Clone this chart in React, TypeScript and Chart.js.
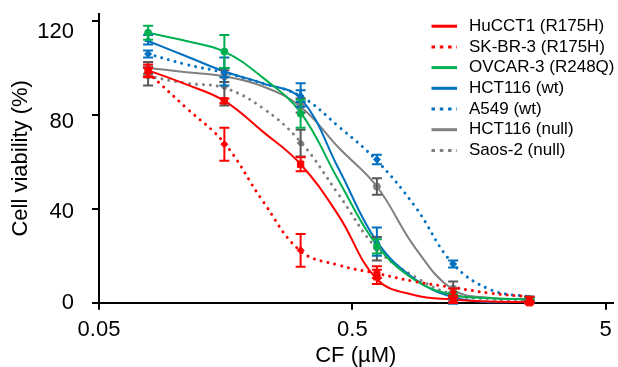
import React, { useEffect, useRef } from "react";
import { Chart, registerables } from "chart.js";

Chart.register(...registerables);

// ---------- data ----------
const doses = [0.078125, 0.15625, 0.3125, 0.625, 1.25, 2.5];
const curveDoses = [0.078125, 0.1105, 0.15625, 0.221, 0.3125, 0.442, 0.625, 0.884, 1.25, 1.768, 2.5];
const xTickValues = [0.05, 0.5, 5];
const yTickValues = [0, 40, 80, 120];

const seriesLabels = [
  "HuCCT1 (R175H)",
  "SK-BR-3 (R175H)",
  "OVCAR-3 (R248Q)",
  "HCT116 (wt)",
  "A549 (wt)",
  "HCT116 (null)",
  "Saos-2 (null)",
];

const hucctMean = [99, 86, 59, 11, 1, 0];
const hucctErr = [2.5, 1, 3, 3, 1, 0.5];
const hucctCurve = [99, 93, 86, 73, 59, 37, 10, 3.2, 1.4, 0.5, 0.3];

const skbrMean = [98, 67.5, 22.3, 13, 4.5, 1.5];
const skbrErr = [2, 7, 7, 2.5, 1.5, 1];
const skbrCurve = [98, 83, 68, 43.5, 22, 16, 12.5, 9, 6.5, 4, 2.5];

const ovcarMean = [115, 107, 80.5, 24, 3.3, 1.5];
const ovcarErr = [3, 7, 6, 3, 1, 0.5];
const ovcarCurve = [115, 111.5, 107, 96, 81, 52, 24.5, 9.6, 3.3, 1.9, 1.5];

const hctWtMean = [112, 98.5, 88.5, 26, 0.5, 0.5];
const hctWtErr = [2, 6, 5, 6, 1, 0.5];
const hctWtCurve = [111.5, 105, 98.5, 93.5, 87, 57, 26, 10, 2.3, 0.2, 0.5];

const a549Mean = [106, 98, 88, 61, 16.5, 1.5];
const a549Err = [1.5, 2, 2.5, 2, 1.5, 1];
const a549Curve = [106, 101.5, 98, 93.5, 88, 75, 60.5, 41, 16.5, 5.4, 2.5];

const hctNullMean = [100, 96.5, 84, 49.5, 6, 1.5];
const hctNullErr = [2.5, 2.5, 3, 3.5, 3, 1];
const hctNullCurve = [100, 98.2, 96.5, 92.2, 83.5, 66, 49.5, 23.5, 5.5, 2, 1.5];

const saosMean = [96.5, 92, 68, 23, 2, 1];
const saosErr = [4, 8, 5.7, 5, 1.5, 1];
const saosCurve = [96.5, 93.5, 91.5, 83, 68.5, 46, 23, 11, 3.5, 1.5, 1];

const allMeans = [hucctMean, skbrMean, ovcarMean, hctWtMean, a549Mean, hctNullMean, saosMean];
const allErrs = [hucctErr, skbrErr, ovcarErr, hctWtErr, a549Err, hctNullErr, saosErr];
const allCurves = [hucctCurve, skbrCurve, ovcarCurve, hctWtCurve, a549Curve, hctNullCurve, saosCurve];

// ---------- styles ----------
const lineColors = ["#FF0000", "#FF0000", "#00B050", "#0070C0", "#0070C0", "#808080", "#808080"];
const barColors = ["#FF0000", "#FF0000", "#00B050", "#0070C0", "#0070C0", "#595959", "#595959"];
const dottedStyle = [false, true, false, false, true, false, true];
const markerStyle = ["rect", "rectRot", "circle", "triangle", "rectRot", "circle", "rectRot"];

const FONT = "'Liberation Sans', Arial, sans-serif";

const zeroPadding = (s: any) => {
  s.paddingTop = 0;
  s.paddingBottom = 0;
  s.paddingLeft = 0;
  s.paddingRight = 0;
};

const errorBarPlugin = {
  id: "errorBars",
  afterDatasetDraw(chart: any, args: any) {
    const ds: any = chart.data.datasets[args.index];
    if (!ds.errors) return;
    const xs = chart.scales.x;
    const ys = chart.scales.y;
    const ctx = chart.ctx;
    ctx.save();
    ctx.strokeStyle = ds.errorColor;
    ctx.lineWidth = 2;
    ds.data.forEach((p: any, j: number) => {
      const e = ds.errors[j];
      if (!e) return;
      const px = xs.getPixelForValue(p.x);
      const top = ys.getPixelForValue(p.y + e);
      const bot = ys.getPixelForValue(p.y - e);
      ctx.beginPath();
      ctx.moveTo(px, top);
      ctx.lineTo(px, bot);
      ctx.moveTo(px - 5, top);
      ctx.lineTo(px + 5, top);
      ctx.moveTo(px - 5, bot);
      ctx.lineTo(px + 5, bot);
      ctx.stroke();
    });
    ctx.restore();
  },
};

const legendPlugin = {
  id: "sideLegend",
  afterDraw(chart: any) {
    const ctx = chart.ctx;
    ctx.save();
    seriesLabels.forEach((label, i) => {
      const y = 26.2 + i * 20.7;
      ctx.beginPath();
      ctx.strokeStyle = lineColors[i];
      ctx.lineWidth = 3;
      ctx.lineCap = "butt";
      ctx.setLineDash(dottedStyle[i] ? [3.5, 4.8] : []);
      ctx.moveTo(431.5, y);
      ctx.lineTo(457, y);
      ctx.stroke();
      ctx.setLineDash([]);
      ctx.fillStyle = "#000";
      ctx.font = `17px ${FONT}`;
      ctx.textBaseline = "middle";
      ctx.textAlign = "left";
      ctx.fillText(label, 469, y);
    });
    ctx.restore();
  },
};

export default function App() {
  const ref = useRef<HTMLCanvasElement>(null);

  useEffect(() => {
    document.body.style.margin = "0";
    const datasets: any[] = [];
    seriesLabels.forEach((label, i) => {
      datasets.push({
        label,
        data: curveDoses.map((x, j) => ({ x, y: allCurves[i][j] })),
        showLine: true,
        borderColor: lineColors[i],
        backgroundColor: lineColors[i],
        borderWidth: dottedStyle[i] ? 3 : 2,
        borderDash: dottedStyle[i] ? [0.01, 7] : [],
        borderCapStyle: dottedStyle[i] ? "round" : "butt",
        pointRadius: 0,
        tension: 0.4,
        order: 2,
        clip: false,
      });
    });
    seriesLabels.forEach((label, i) => {
      datasets.push({
        label: label + " data",
        data: doses.map((x, j) => ({ x, y: allMeans[i][j] })),
        showLine: false,
        pointStyle: markerStyle[i],
        pointRadius: markerStyle[i] === "rect" ? 4.5 : 3.5,
        pointBackgroundColor: lineColors[i],
        pointBorderColor: lineColors[i],
        pointBorderWidth: 1,
        errors: allErrs[i],
        errorColor: barColors[i],
        order: 1,
        clip: false,
      });
    });

    const chart = new Chart(ref.current!, {
      type: "scatter",
      data: { datasets },
      options: {
        responsive: false,
        animation: false,
        layout: { padding: { top: 14, right: 0, bottom: 0, left: 0 } },
        plugins: { legend: { display: false }, tooltip: { enabled: false } },
        scales: {
          x: {
            type: "logarithmic",
            position: "bottom",
            min: 0.05,
            max: 5.32,
            afterBuildTicks: (s: any) => {
              s.ticks = xTickValues.map((v) => ({ value: v }));
            },
            afterFit: (s: any) => {
              s.height = 64.3;
              zeroPadding(s);
            },
            ticks: {
              callback: (v: any) => String(v),
              padding: 7,
              color: "#000",
              maxRotation: 0,
              autoSkip: false,
              font: { family: FONT, size: 22, lineHeight: 1.2 },
            },
            grid: { display: true, drawOnChartArea: false, drawTicks: true, tickLength: 7, lineWidth: 2, color: "#000" },
            border: { display: true, width: 2, color: "#000" },
            title: {
              display: true,
              text: "CF (µM)",
              color: "#000",
              padding: 0,
              font: { family: FONT, size: 22, lineHeight: 1 },
            },
          },
          y: {
            type: "linear",
            position: "left",
            weight: 0,
            min: 0,
            max: 123,
            afterBuildTicks: (s: any) => {
              s.ticks = yTickValues.map((v) => ({ value: v }));
            },
            afterFit: (s: any) => {
              s.width = 7;
              zeroPadding(s);
            },
            ticks: { display: false },
            grid: { display: true, drawOnChartArea: false, drawTicks: true, tickLength: 7, lineWidth: 2, color: "#000" },
            border: { display: true, width: 2, color: "#000" },
          },
          yl: {
            type: "linear",
            position: "left",
            weight: 1,
            min: 0,
            max: 127.9,
            afterBuildTicks: (s: any) => {
              s.ticks = yTickValues.map((v) => ({ value: v }));
            },
            afterFit: (s: any) => {
              s.width = 92;
              zeroPadding(s);
            },
            ticks: { padding: 18, color: "#000", font: { family: FONT, size: 22 } },
            grid: { display: false, drawTicks: false },
            border: { display: false },
            title: {
              display: true,
              text: "Cell viability (%)",
              color: "#000",
              padding: { top: 10, bottom: 0 },
              font: { family: FONT, size: 22, lineHeight: 1 },
            },
          },
        },
      } as any,
      plugins: [errorBarPlugin, legendPlugin],
    });
    return () => chart.destroy();
  }, []);

  return (
    <div style={{ width: 618, height: 367 }}>
      <canvas ref={ref} width={618} height={367} style={{ display: "block" }} />
    </div>
  );
}
